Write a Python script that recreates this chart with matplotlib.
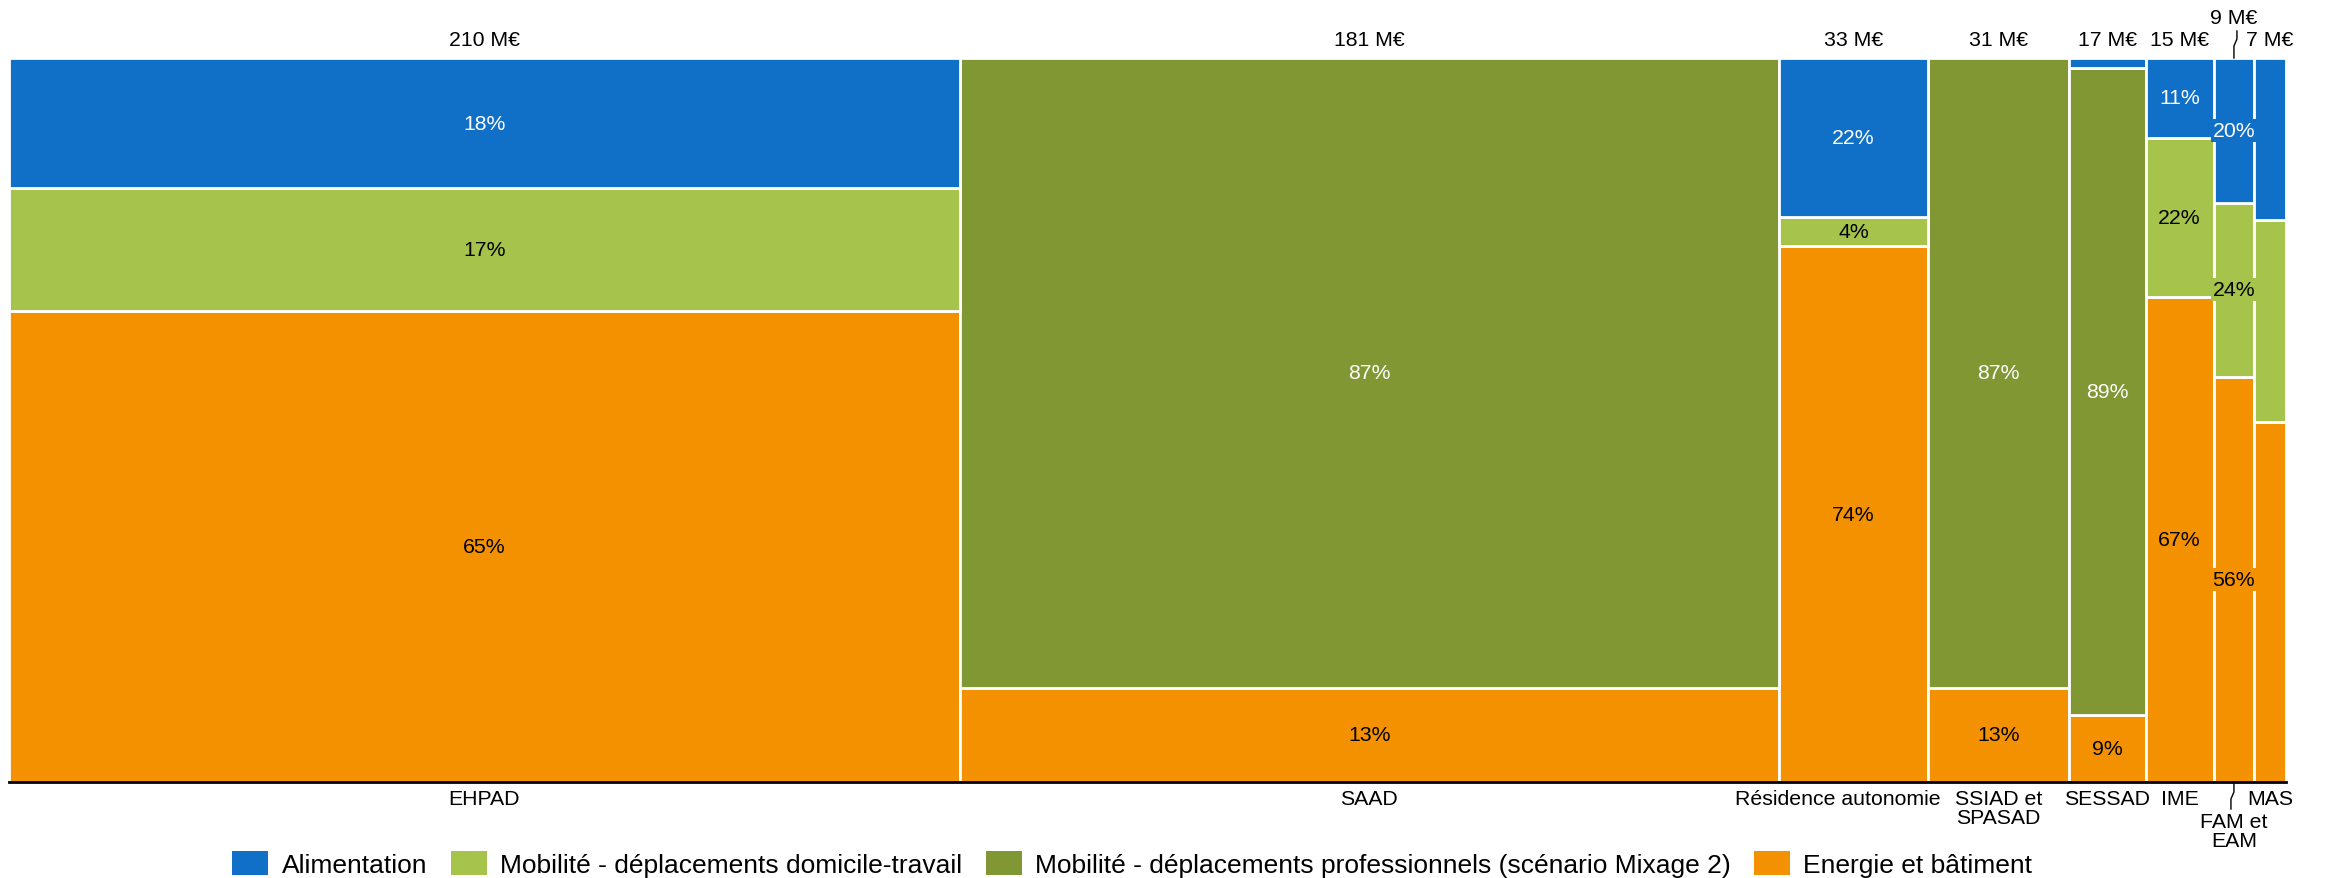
import numpy as np
import matplotlib
matplotlib.use("Agg")
import matplotlib.pyplot as plt
from matplotlib.patches import Patch
from matplotlib.transforms import blended_transform_factory

plt.rcParams['font.family'] = ['Liberation Sans', 'DejaVu Sans']

# data: budget per type of structure (M€) and share of each emission post (%)
categories = ["EHPAD", "SAAD", "Résidence autonomie", "SSIAD et\nSPASAD",
              "SESSAD", "IME", "FAM et\nEAM", "MAS"]
budget = [210, 181, 33, 31, 17, 15, 9, 7]
alimentation = [18, 0, 22, 0, 1.4, 11, 20, 22.4]
mob_domicile = [17, 0, 4, 0, 0, 22, 24, 27.9]
mob_pro = [0, 87, 0, 87, 89.4, 0, 0, 0]
energie = [65, 13, 74, 13, 9.2, 67, 56, 49.7]

series_names = ["Alimentation",
                "Mobilité - déplacements domicile-travail",
                "Mobilité - déplacements professionnels (scénario Mixage 2)",
                "Energie et bâtiment"]

# styling
colors = ["#106FC6", "#A6C34B", "#819734", "#F39100"]
text_colors = ["white", "black", "white", "black"]
fs = 15.3
no_labels = ["MAS"]
lifted = "FAM et\nEAM"
label_shift_px = {"Résidence autonomie": -16}   # nudge so it doesn't hit SSIAD

fig = plt.figure(figsize=(23.3, 8.79), dpi=100)
ax = fig.add_axes([9 / 2330, 96 / 879, 2277 / 2330, 724 / 879])
ax_h = 724.0
ax_w = 2277.0

total = sum(budget)
lefts = np.concatenate([[0], np.cumsum(budget)[:-1]])
centers = lefts + np.array(budget) / 2

# stack bottom -> top: energie, mob pro, mob domicile, alimentation
stack = [(energie, 3), (mob_pro, 2), (mob_domicile, 1), (alimentation, 0)]
bottoms = np.zeros(len(budget))
for vals, si in stack:
    vals = np.array(vals, dtype=float)
    for i, v in enumerate(vals):
        if v <= 0:
            continue
        ax.bar(lefts[i], v, width=budget[i], bottom=bottoms[i], align="edge",
               color=colors[si], edgecolor="white", linewidth=2, zorder=2)
        if v >= 3 and categories[i] not in no_labels:
            ax.text(centers[i], bottoms[i] + v / 2, f"{v:.0f}%", ha="center", va="center",
                    fontsize=fs, color=text_colors[si], zorder=4,
                    bbox=dict(facecolor=colors[si], edgecolor="none", pad=1.5))
    bottoms += vals

ax.set_xlim(0, total)
ax.set_ylim(0, 100)
ax.set_xticks([])
ax.set_yticks([])
for s in ["top", "left", "right"]:
    ax.spines[s].set_visible(False)
ax.spines["bottom"].set_linewidth(2)
ax.spines["bottom"].set_zorder(5)

trans = blended_transform_factory(ax.transData, ax.transAxes)
kink = 3 / ax_w * total

# budget labels above the columns
for i, cat in enumerate(categories):
    if cat == lifted:
        ax.text(centers[i], 1 + 41 / ax_h, f"{budget[i]} M€", transform=trans,
                ha="center", va="center", fontsize=fs)
        ax.plot([centers[i] + kink, centers[i] + kink, centers[i], centers[i]],
                [1 + 27 / ax_h, 1 + 19 / ax_h, 1 + 12 / ax_h, 1.0],
                transform=trans, color="black", lw=1, clip_on=False)
    else:
        ax.text(centers[i], 1 + 19 / ax_h, f"{budget[i]} M€", transform=trans,
                ha="center", va="center", fontsize=fs)

# category labels below
for i, cat in enumerate(categories):
    x = centers[i] + label_shift_px.get(cat, 0) / ax_w * total
    if cat == lifted:
        ax.text(x, -30 / ax_h, cat, transform=trans, ha="center", va="top",
                fontsize=fs, linespacing=1.0)
        ax.plot([centers[i], centers[i], centers[i] - kink, centers[i] - kink],
                [0, -10 / ax_h, -17 / ax_h, -27 / ax_h],
                transform=trans, color="black", lw=1, clip_on=False)
    else:
        ax.text(x, -7 / ax_h, cat, transform=trans, ha="center", va="top",
                fontsize=fs, linespacing=1.0)

handles = [Patch(facecolor=c, edgecolor="none") for c in colors]
fig.legend(handles, series_names, loc="center", bbox_to_anchor=(0.486, 1 - 865 / 879),
           ncol=4, frameon=False, fontsize=19, handlelength=1.36, handleheight=1.0,
           handletextpad=0.5, columnspacing=0.9, borderaxespad=0)

fig.savefig("out.png", dpi=100)
